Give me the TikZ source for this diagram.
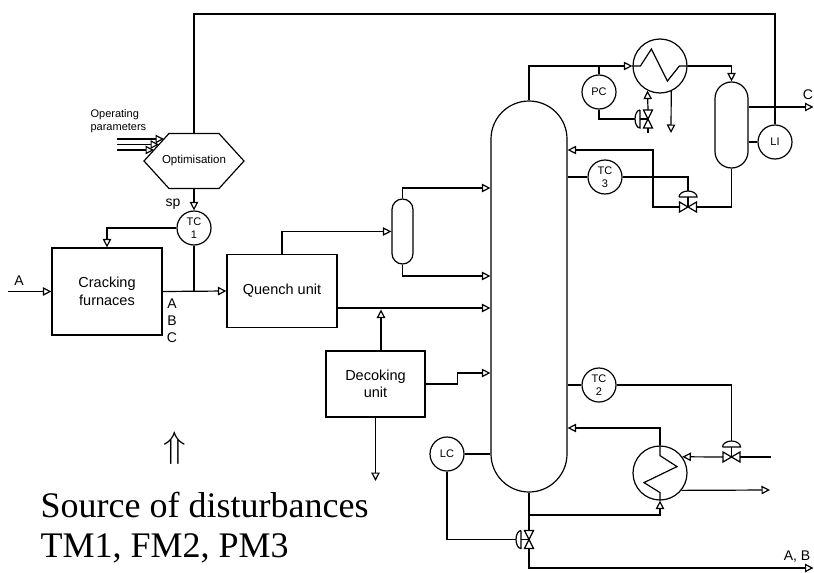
\documentclass[tikz,border=0pt]{standalone}
\usepackage{fontspec}
\setmainfont{Liberation Sans}
\newfontfamily\serifbig{Liberation Serif}
\usetikzlibrary{arrows.meta,calc}

\tikzstyle{flow} = [-{Triangle[open,length=8.5pt,width=8.5pt]}]
\tikzstyle{unit} = [rectangle, draw, align=center, inner sep=0pt, font=\fontsize{14.5}{17.5}\selectfont]
\tikzstyle{vessel} = [rectangle, draw, inner sep=0pt]
\tikzstyle{instr} = [circle, draw, minimum size=34pt, inner sep=0pt, align=center, font=\fontsize{11}{12.5}\selectfont]
\tikzstyle{exch} = [circle, draw, minimum size=54pt, inner sep=0pt]
\tikzstyle{lbl} = [inner sep=0pt, font=\fontsize{14}{16}\selectfont]

\tikzset{
  hvalve/.pic={
    \draw (-8.5,-5) -- (-8.5,5) -- (8.5,-5) -- (8.5,5) -- cycle;
    \draw (0,0) -- (0,-10);
    \draw (-9,-10) -- (9,-10) arc[start angle=0, end angle=-180, x radius=9, y radius=6];
    \coordinate (-left) at (-8.5,0);
    \coordinate (-right) at (8.5,0);
    \coordinate (-act) at (0,-16);
  },
  vvalve/.pic={
    \draw (-4.5,-9) -- (4.5,-9) -- (-4.5,9) -- (4.5,9) -- cycle;
    \draw (0,0) -- (-8,0);
    \draw (-8,-9) -- (-8,9) arc[start angle=90, end angle=270, x radius=5, y radius=9];
    \coordinate (-top) at (0,-9);
    \coordinate (-bot) at (0,9);
    \coordinate (-act) at (-13,0);
  }
}

\begin{document}
\begin{tikzpicture}[x=1pt, y=-1pt, line width=1.2pt]
\useasboundingbox (0,0) rectangle (814,573);

% Optimisation layer
\node[minimum height=55pt, inner sep=0pt, font=\fontsize{11.5}{13}\selectfont] (optim) at (194,161) {Optimisation};
\draw ($(optim.center)+(-50,0)$) -- ++(25,-27.5) -- ++(50,0) -- ++(25,27.5) -- ++(-25,27.5) -- ++(-50,0) -- cycle;
\node[anchor=west, align=left, inner sep=0pt, font=\fontsize{11}{13}\selectfont] (oppar) at (90,121.5) {Operating\\parameters};
\foreach \y/\x in {139/164, 144.5/159, 150/154}
  \draw[flow] (117,\y) -- (\x,\y);
\node[instr] (tc1) at (194,228) {TC\\1};
\draw[flow] (optim.south) -- (tc1.north);
\node[lbl] (sp) at (173,204) {sp};

% Cracking furnaces
\node[unit, minimum width=110pt, minimum height=87pt] (furn) at (107,291.5) {Cracking\\furnaces};
\coordinate (feedA) at (8,291.5);
\draw[flow] (feedA) -- (furn.west);
\node[lbl] (lblfeed) at (19,281) {A};
\draw[flow] (tc1.west) -| (furn.north);
\node[lbl] (lblA) at (172,304) {A};
\node[lbl] (lblB) at (172,321) {B};
\node[lbl] (lblC) at (172,338) {C};

% Quench unit and drum
\node[unit, minimum width=110pt, minimum height=73pt] (quench) at (282,291) {Quench unit};
\draw[flow] (furn.east) -- (quench.west);
\draw (tc1.south) -- (tc1.south |- furn.east);
\node[vessel, rounded corners=10.5pt, minimum width=21pt, minimum height=65pt] (drumA) at (402.5,231.5) {};
\draw[flow] (quench.north) |- (drumA.west);

% Column
\node[vessel, rounded corners=38pt, minimum width=76pt, minimum height=391pt] (column) at (529,296.5) {};
\draw[flow] (drumA.north) |- (column.west |- 0,188);
\draw[flow] (drumA.south) |- (column.west |- 0,276);
\draw[flow] ([yshift=-17pt]quench.east) coordinate (qout) -- (column.west |- qout);

% Decoking unit
\node[unit, minimum width=99pt, minimum height=66pt] (decok) at (375.5,384) {Decoking\\unit};
\draw[flow] ([xshift=5.5pt]decok.north) -- ([xshift=5.5pt]decok.north |- 0,309.5);
\draw[flow] (decok.east) -- ++(32,0) |- (column.west |- 0,373);
\coordinate (drain) at (375.5,481);
\draw[flow] (decok.south) -- (drain);

% Condenser and reflux
\node[exch] (cond) at (660,66) {};
\draw[flow] (column.north) |- (cond.west);
\draw (cond.west) -- ++(8,0) -- ++(11,-17) -- ++(16,32) -- ++(12,-15) -- (cond.east);
\node[vessel, rounded corners=16.5pt, minimum width=33pt, minimum height=86pt] (drumR) at (731.5,125) {};
\draw[flow] (cond.east) -| (drumR.north);
\node[instr] (pc) at (599,92) {PC};
\draw (pc.north) -- (pc.north |- cond.west);
\pic (pcv) at (648,119) {vvalve};
\draw (pc.south) |- (pcv-act);
\draw[flow] (pcv-top) -- (cond.243);
\draw (pcv-bot) -- ++(0,5);
\coordinate (vent) at (671,133);
\draw[flow] (cond.294) -- (vent);

% Top product and level
\coordinate (prodC) at (813.5,107);
\draw[flow] ([yshift=18pt]drumR.east) -- (prodC);
\node[lbl] (lblprodC) at (808,95) {C};
\node[instr] (li) at (775,142) {LI};
\draw (drumR.east |- li.west) -- (li.west);
\draw (optim.north) |- (li.north |- 0,14) -- (li.north);

% Reflux valve and TC3
\pic (rv) at (688,207) {hvalve};
\draw (drumR.south) |- (rv-right);
\coordinate (refl) at (653,150);
\draw[flow] (rv-left) -| (refl) -- (column.east |- refl);
\node[instr] (tc3) at (605,177) {TC\\3};
\draw (column.east |- tc3.west) -- (tc3.west);
\draw (tc3.east) -| (rv-act);

% Reboiler and TC2
\node[exch] (reb) at (660,473) {};
\draw (reb.south) -- ++(0,-8) -- ++(-16,-10) -- ++(33,-16) -- ++(-17,-11) -- (reb.north);
\draw[flow] (reb.north) |- (column.east |- 0,428);
\draw[flow] (column.south |- 0,515) -| (reb.south);
\pic (sv) at (731.5,457) {hvalve};
\coordinate (steamin) at (771,457);
\draw (steamin) -- (sv-right);
\draw[flow] (sv-left) -- (reb.36);
\coordinate (condout) at (770,490);
\draw[flow] (reb.-39) -- (condout);
\node[instr] (tc2) at (599,385) {TC\\2};
\draw (column.east |- tc2.west) -- (tc2.west);
\draw (tc2.east) -| (sv-act);

% Bottom product and LC
\pic (bv) at (529,539.5) {vvalve};
\draw (column.south) -- (bv-top);
\coordinate (prodAB) at (813.5,568);
\draw[flow] (bv-bot) |- (prodAB);
\node[lbl] (lblprodAB) at (797,557) {A, B};
\node[instr] (lc) at (447,454) {LC};
\draw (lc.east) -- (column.west |- lc.east);
\draw (lc.south) |- (bv-act);

% Disturbances
\node[inner sep=0pt, scale=3.7] (uparr) at (175,448) {$\Uparrow$};
\node[anchor=base west, inner sep=0pt, font=\serifbig\fontsize{36}{40}\selectfont] (dist1) at (40,517) {Source of disturbances};
\node[anchor=base west, inner sep=0pt, font=\serifbig\fontsize{36}{40}\selectfont] (dist2) at (40,557) {TM1, FM2, PM3};
\end{tikzpicture}
\end{document}
